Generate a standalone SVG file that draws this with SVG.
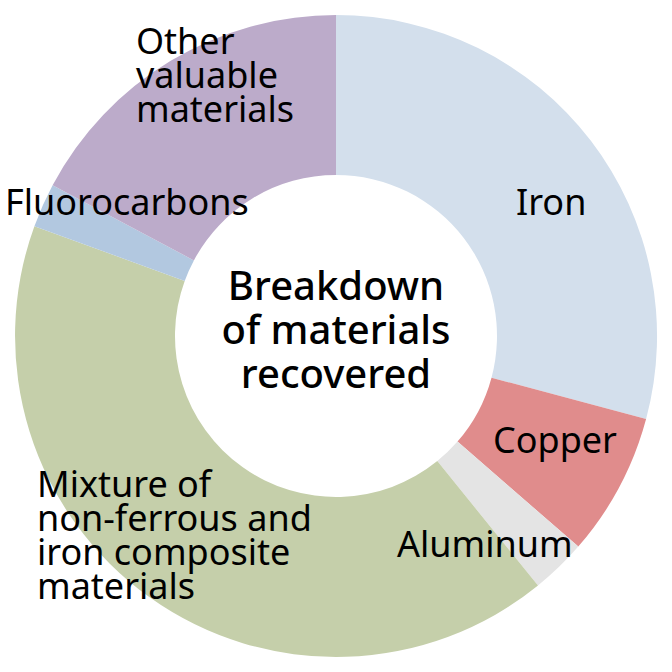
<svg xmlns="http://www.w3.org/2000/svg" width="672" height="672" viewBox="0 0 672 672">
<style>
text{font-family:"Noto Sans","Noto Sans CJK JP",sans-serif;font-size:36px;fill:#000}
.c{font-size:40px;font-weight:500;text-anchor:middle}
</style>
<rect width="672" height="672" fill="#fff"/>
<g id="connectors"></g>
<g id="slices">
<path id="iron-slice" d="M336,15 A321,321 0 0 1 646.1,419.1 L491.5,377.7 A161,161 0 0 0 336,175 Z" fill="#d3dfec"/>
<path id="copper-slice" d="M646.1,419.1 A321,321 0 0 1 578.3,546.6 L457.5,441.6 A161,161 0 0 0 491.5,377.7 Z" fill="#e08c8c"/>
<path id="aluminum-slice" d="M578.3,546.6 A321,321 0 0 1 538,585.5 L437.3,461.1 A161,161 0 0 0 457.5,441.6 Z" fill="#e4e4e4"/>
<path id="mixture-slice" d="M538,585.5 A321,321 0 0 1 34.4,226.2 L184.7,280.9 A161,161 0 0 0 437.3,461.1 Z" fill="#c5cfaa"/>
<path id="fluorocarbons-slice" d="M34.4,226.2 A321,321 0 0 1 52.6,185.3 L193.9,260.4 A161,161 0 0 0 184.7,280.9 Z" fill="#b2c8e0"/>
<path id="other-slice" d="M52.6,185.3 A321,321 0 0 1 336,15 L336,175 A161,161 0 0 0 193.9,260.4 Z" fill="#bcabca"/>
</g>
<g id="iron"><text x="516" y="215">Iron</text></g>
<g id="copper"><text x="493" y="453">Copper</text></g>
<g id="aluminum"><text x="397" y="557">Aluminum</text></g>
<g id="mixture"><text x="37" y="497">Mixture of</text><text x="37" y="531">non-ferrous and</text><text x="37" y="565">iron composite</text><text x="37" y="599">materials</text></g>
<g id="fluorocarbons"><text x="5" y="215">Fluorocarbons</text></g>
<g id="other"><text x="136" y="54">Other</text><text x="136" y="88">valuable</text><text x="136" y="122">materials</text></g>
<g id="center"><text class="c" x="336" y="300">Breakdown</text><text class="c" x="336" y="344">of materials</text><text class="c" x="336" y="388">recovered</text></g>
</svg>
